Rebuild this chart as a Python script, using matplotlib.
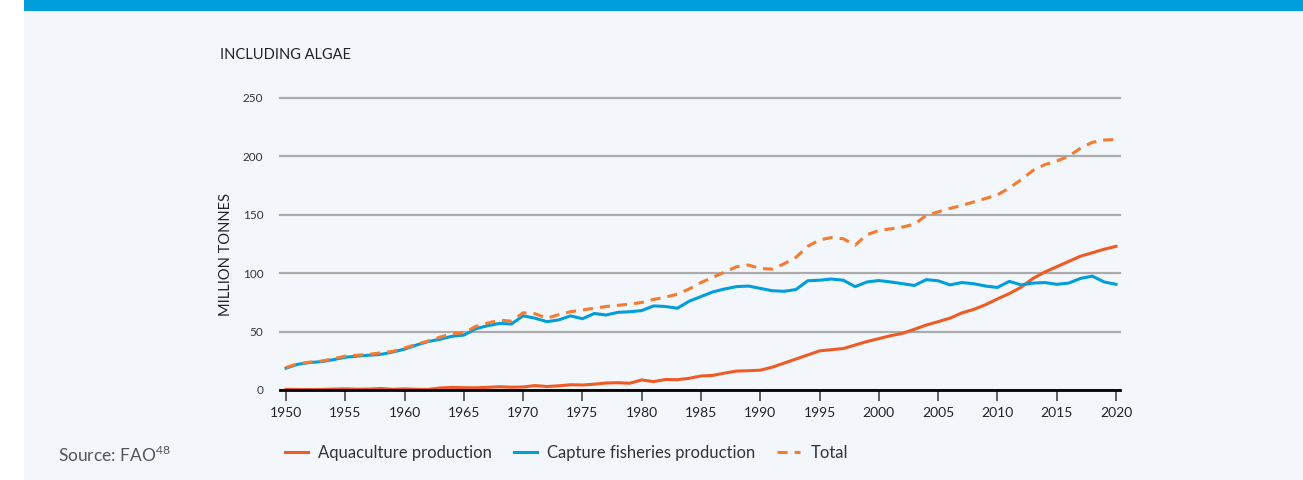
import matplotlib.pyplot as plt
from matplotlib.patches import Rectangle
import numpy as np

plt.rcParams['font.family'] = ['Lato', 'DejaVu Sans']
plt.rcParams['mathtext.fontset'] = 'custom'
plt.rcParams['mathtext.rm'] = 'Lato'

years = np.arange(1950, 2021)

aquaculture = [0.6, 0.5, 0.4, 0.5, 0.8, 1.0, 0.7, 0.8, 1.3, 0.6,
               1.0, 0.6, 0.5, 1.8, 2.2, 2.0, 1.9, 2.3, 2.8, 2.4,
               2.6, 3.8, 3.0, 3.6, 4.5, 4.3, 5.0, 6.0, 6.2, 5.8,
               8.6, 7.2, 9.0, 8.8, 10.0, 12.0, 12.5, 14.5, 16.2, 16.5,
               17.0, 19.5, 23.0, 26.5, 30.0, 33.5, 34.5, 35.5, 38.5, 41.5,
               44.0, 46.5, 48.5, 52.0, 55.6, 58.5, 61.5, 66.0, 69.0, 73.0,
               78.0, 82.5, 88.0, 95.5, 101.0, 105.5, 110.0, 114.5, 117.5, 120.5,
               123.0]

capture = [18.7, 22.0, 23.5, 24.3, 26.0, 28.0, 29.0, 29.8, 30.5, 32.5,
           35.0, 38.5, 41.5, 43.5, 46.0, 47.0, 52.5, 55.0, 57.0, 56.5,
           63.5, 61.5, 58.5, 60.0, 63.5, 61.0, 65.5, 64.2, 66.5, 67.0,
           68.0, 72.0, 71.5, 70.0, 76.0, 80.0, 84.0, 86.5, 88.5, 89.0,
           87.0, 85.0, 84.5, 86.0, 93.5, 94.0, 95.0, 94.0, 88.5, 92.5,
           93.7, 92.5, 91.0, 89.5, 94.5, 93.5, 90.0, 92.0, 91.0, 89.0,
           87.8, 93.0, 90.0, 91.5, 92.0, 90.5, 91.5, 95.5, 97.5, 92.5,
           90.5]

total = [19.3, 22.5, 23.9, 24.8, 26.8, 29.0, 29.7, 30.6, 31.8, 33.1,
         36.0, 39.1, 42.0, 45.3, 48.2, 49.0, 54.4, 57.3, 59.8, 58.9,
         66.1, 65.3, 61.5, 64.5, 67.0, 68.5, 70.0, 71.5, 72.5, 73.5,
         75.0, 77.5, 79.5, 82.0, 86.5, 92.0, 96.5, 101.0, 105.5, 107.0,
         104.0, 103.5, 108.0, 113.5, 123.0, 128.5, 130.5, 129.5, 124.0, 133.0,
         136.5, 138.0, 139.5, 142.0, 149.5, 152.5, 155.5, 158.0, 161.0, 164.0,
         167.0, 173.0, 180.0, 188.0, 193.0, 196.0, 200.0, 207.0, 212.0, 214.0,
         214.5]

yticks = [0, 50, 100, 150, 200, 250]
xticks = list(range(1950, 2021, 5))

bg = '#F3F7FC'
blue = '#009EDB'
red = '#EF5B24'
orange = '#F47B30'

fig = plt.figure(figsize=(13.03, 4.8), dpi=100)
fig.patch.set_facecolor('white')
# page background and top banner
fig.patches.append(Rectangle((24 / 1303, 0), 1, 1, transform=fig.transFigure,
                             facecolor=bg, edgecolor='none', zorder=-2))
fig.patches.append(Rectangle((24 / 1303, 1 - 11 / 480), 1, 11 / 480,
                             transform=fig.transFigure, facecolor=blue,
                             edgecolor='none', zorder=-1))

ax = fig.add_axes([280 / 1303, 1 - 390 / 480, 840 / 1303, 292 / 480])
ax.set_facecolor(bg)

ax.plot(years, aquaculture, color=red, lw=2.2, label='Aquaculture production', zorder=3)
ax.plot(years, capture, color=blue, lw=2.2, label='Capture fisheries production', zorder=3)
ax.plot(years, total, color=orange, lw=2.2, ls=(0, (3.3, 2.3)), label='Total', zorder=3)

ax.set_xlim(1949.49, 2020.34)
ax.set_ylim(0, 250)
ax.set_xticks(xticks)
ax.set_yticks(yticks)
ax.grid(axis='y', color='#ABABAB', lw=1.6, clip_on=False)
ax.set_axisbelow(True)
for s in ['top', 'right', 'left']:
    ax.spines[s].set_visible(False)
ax.spines['bottom'].set_color('black')
ax.spines['bottom'].set_linewidth(2)
ax.spines['bottom'].set_zorder(4)
ax.tick_params(axis='x', length=8, width=1.2, color='#444444', labelsize=10,
               labelcolor='#222222', pad=4)
ax.tick_params(axis='y', length=0, labelsize=8.5, labelcolor='#333333', pad=12)

fig.text(220 / 1303, 1 - 55 / 480, 'INCLUDING ALGAE', fontsize=10.5,
         color='#222222', va='center', ha='left')
fig.text(226 / 1303, 1 - 255 / 480, 'MILLION TONNES', fontsize=10.5,
         color='#222222', rotation=90, va='center', ha='center')
fig.text(58 / 1303, 1 - 455 / 480, r'Source: FAO$^{\mathregular{48}}$', fontsize=12.5,
         color='#555555', va='center', ha='left')

fig.legend(loc='center left', bbox_to_anchor=(270 / 1303, 1 - 453 / 480), ncol=3,
           frameon=False, fontsize=12, handlelength=1.4, handletextpad=0.6,
           columnspacing=1.3, labelcolor='#333333')

fig.savefig('out.png', dpi=100, facecolor=fig.get_facecolor())
